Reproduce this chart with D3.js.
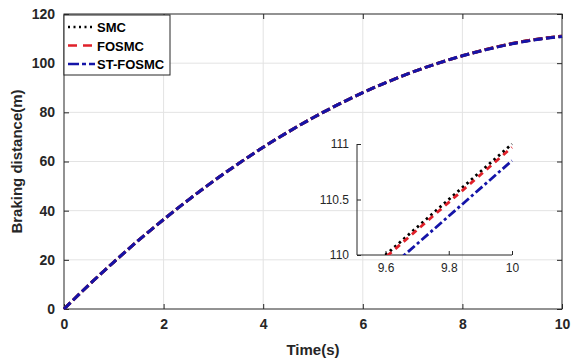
<!DOCTYPE html>
<html>
<head>
<meta charset="utf-8">
<script src="https://cdn.jsdelivr.net/npm/d3@7/dist/d3.min.js"></script>
<style>
  body { margin: 0; background: #fff; }
  svg { display: block; font-family: "Liberation Sans", Arial, sans-serif; }
</style>
</head>
<body>
<div id="chart"></div>
<script>
// time samples (s)
const time = [0, 0.5, 1, 1.5, 2, 2.5, 3, 3.5, 4, 4.5, 5, 5.5, 6, 6.5, 7, 7.5, 8, 8.5, 9, 9.5, 10];
// braking distance (m)
const smc     = [0, 9.8, 19.1, 28.0, 36.4, 44.4, 52.0, 59.1, 65.8, 72.0, 77.8, 83.1, 88.0, 92.4, 96.4, 99.9, 103.0, 105.7, 108.0, 109.75, 111.0];
const fosmc   = [0, 9.8, 19.1, 28.0, 36.4, 44.4, 52.0, 59.1, 65.8, 72.0, 77.8, 83.1, 88.0, 92.4, 96.4, 99.9, 103.0, 105.7, 107.98, 109.73, 110.97];
const stfosmc = [0, 9.8, 19.1, 28.0, 36.4, 44.4, 52.0, 59.1, 65.8, 72.0, 77.8, 83.1, 88.0, 92.4, 96.4, 99.9, 103.0, 105.6, 107.9, 109.6, 110.85];

const seriesNames = ["SMC", "FOSMC", "ST-FOSMC"];
const xTicks = [0, 2, 4, 6, 8, 10];
const yTicks = [0, 20, 40, 60, 80, 100, 120];
const insetXTicks = [9.6, 9.8, 10];
const insetYTicks = [110, 110.5, 111];

const W = 572, H = 360;
const margin = {left: 64, right: 10, top: 14, bottom: 51};
const innerW = W - margin.left - margin.right;
const innerH = H - margin.top - margin.bottom;

const styles = [
  {color: "#000000", dash: "2,3.5", width: 2.6},
  {color: "#e0202a", dash: "9,6", width: 2.6},
  {color: "#1414a8", dash: "11,3,4,3", width: 2.6}
];
const allSeries = [smc, fosmc, stfosmc];

const svg = d3.select("#chart").append("svg")
    .attr("width", W).attr("height", H);

const x = d3.scaleLinear().domain([0, 10]).range([margin.left, margin.left + innerW]);
const y = d3.scaleLinear().domain([0, 120]).range([margin.top + innerH, margin.top]);

// grid
svg.append("g").selectAll("line").data(xTicks.slice(1, -1)).join("line")
    .attr("x1", d => x(d)).attr("x2", d => x(d))
    .attr("y1", y(0)).attr("y2", y(120))
    .attr("stroke", "#e3e3e3").attr("stroke-width", 1);
svg.append("g").selectAll("line").data(yTicks.slice(1, -1)).join("line")
    .attr("x1", x(0)).attr("x2", x(10))
    .attr("y1", d => y(d)).attr("y2", d => y(d))
    .attr("stroke", "#e3e3e3").attr("stroke-width", 1);

// axes with inward ticks
function styleAxis(g, bold, size) {
  g.select(".domain").remove();
  g.selectAll(".tick line").attr("stroke", "#262626");
  g.selectAll(".tick text").attr("fill", "#262626")
    .attr("font-size", size).attr("font-weight", bold ? "bold" : "normal");
}
svg.append("g").attr("transform", `translate(0,${y(0)})`)
    .call(d3.axisBottom(x).tickValues(xTicks).tickFormat(d3.format("d")).tickSizeInner(-5).tickPadding(10))
    .call(g => styleAxis(g, true, 14));
svg.append("g").attr("transform", `translate(0,${y(120)})`)
    .call(d3.axisTop(x).tickValues(xTicks).tickFormat("").tickSizeInner(-5))
    .call(g => styleAxis(g, true, 14));
svg.append("g").attr("transform", `translate(${x(0)},0)`)
    .call(d3.axisLeft(y).tickValues(yTicks).tickFormat(d3.format("d")).tickSizeInner(-5).tickPadding(9))
    .call(g => styleAxis(g, true, 14));
svg.append("g").attr("transform", `translate(${x(10)},0)`)
    .call(d3.axisRight(y).tickValues(yTicks).tickFormat("").tickSizeInner(-5))
    .call(g => styleAxis(g, true, 14));

svg.append("rect")
    .attr("x", x(0)).attr("y", y(120))
    .attr("width", x(10) - x(0)).attr("height", y(0) - y(120))
    .attr("fill", "none").attr("stroke", "#262626").attr("stroke-width", 1);

// curves: at full scale the three overlap, the top one hides the rest
const line = d3.line().x((d, i) => x(time[i])).y(d => y(d)).curve(d3.curveMonotoneX);
allSeries.forEach((s, k) => {
  svg.append("path").datum(s)
    .attr("d", line)
    .attr("fill", "none")
    .attr("stroke", styles[k].color)
    .attr("stroke-width", 3)
    .attr("stroke-dasharray", "9,3.5");
});

// labels
svg.append("text")
    .attr("x", x(5)).attr("y", H - 5)
    .attr("text-anchor", "middle").attr("font-size", 15).attr("font-weight", "bold")
    .attr("fill", "#262626").text("Time(s)");
svg.append("text")
    .attr("transform", `translate(22,${(y(0) + y(120)) / 2}) rotate(-90)`)
    .attr("text-anchor", "middle").attr("font-size", 15).attr("font-weight", "bold")
    .attr("fill", "#262626").text("Braking distance(m)");

// legend
const lg = svg.append("g").attr("transform", `translate(${x(0)},${y(120) + 1})`);
lg.append("rect").attr("width", 106).attr("height", 60)
    .attr("fill", "#fff").attr("stroke", "#262626").attr("stroke-width", 1);
seriesNames.forEach((name, k) => {
  const yy = 12 + k * 18.5;
  lg.append("line").attr("x1", 4).attr("x2", 31).attr("y1", yy).attr("y2", yy)
    .attr("stroke", styles[k].color).attr("stroke-width", styles[k].width)
    .attr("stroke-dasharray", styles[k].dash);
  lg.append("text").attr("x", 33).attr("y", yy + 5)
    .attr("font-size", 13).attr("font-weight", "bold").attr("fill", "#000").text(name);
});

// inset zoom
const ix = d3.scaleLinear().domain([9.51, 10]).range([357, 512]);
const iy = d3.scaleLinear().domain([110, 111]).range([255, 144]);
const inset = svg.append("g");
inset.append("clipPath").attr("id", "insetClip")
  .append("rect").attr("x", 357).attr("y", 140).attr("width", 158).attr("height", 115);
inset.append("g").attr("transform", `translate(0,${iy(110)})`)
    .call(d3.axisBottom(ix).tickValues(insetXTicks).tickFormat(d => d === 10 ? "10" : d3.format(".1f")(d)).tickSizeInner(-4).tickSizeOuter(0).tickPadding(8))
    .call(g => styleAxis(g, false, 12));
inset.append("g").attr("transform", `translate(${ix.range()[0]},0)`)
    .call(d3.axisLeft(iy).tickValues(insetYTicks).tickFormat(d => d === 110.5 ? "110.5" : d3.format("d")(d)).tickSizeInner(-4).tickSizeOuter(0).tickPadding(8))
    .call(g => styleAxis(g, false, 12));
inset.append("line").attr("x1", 357).attr("x2", 512).attr("y1", iy(110)).attr("y2", iy(110))
    .attr("stroke", "#262626").attr("stroke-width", 1);
inset.append("line").attr("x1", 357).attr("x2", 357).attr("y1", iy(110)).attr("y2", iy(111))
    .attr("stroke", "#262626").attr("stroke-width", 1);

const iline = d3.line().defined((d, i) => time[i] >= 9.5).x((d, i) => ix(time[i])).y(d => iy(d));
const insetDash = ["2.5,3.5", "6,5", "9,3,3,3"];
allSeries.forEach((s, k) => {
  inset.append("path").datum(s)
    .attr("d", iline)
    .attr("clip-path", "url(#insetClip)")
    .attr("fill", "none")
    .attr("stroke", styles[k].color)
    .attr("stroke-width", 2.8)
    .attr("stroke-dasharray", insetDash[k]);
});
</script>
</body>
</html>
